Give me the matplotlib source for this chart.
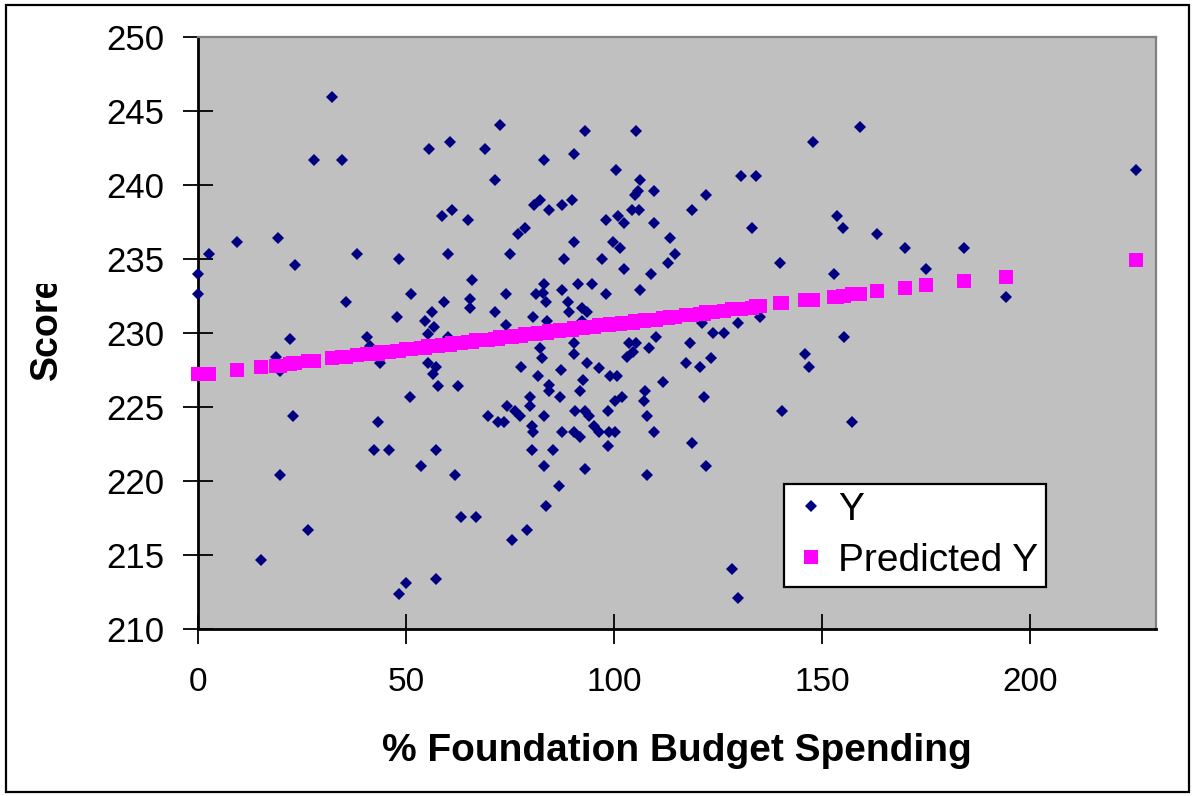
import matplotlib
matplotlib.use("Agg")
import matplotlib.pyplot as plt
from matplotlib.patches import Rectangle
from matplotlib.transforms import Bbox, TransformedBbox

# ---- data ----
spending = [32.3, 27.8, 34.6, 2.7, 9.3, 19.2, 23.3, 38.2, 48.4, 0.0, 0.0, 35.5, 47.8, 51.2,
            72.6, 93.1, 55.5, 60.6, 69.0, 83.2, 90.4, 100.5, 71.4, 80.8, 82.3, 84.4, 87.5, 89.9,
            58.6, 61.1, 64.9, 77.0, 78.5, 98.0, 101.0, 60.1, 75.0, 90.4, 99.8, 101.5, 88.0, 97.1,
            102.3, 65.9, 59.1, 65.3, 65.3, 56.2, 71.4, 74.1, 83.2, 81.3, 83.0, 83.6, 87.5, 91.3,
            94.8, 98.0, 88.9, 89.1, 92.3, 93.5, 54.6, 56.8, 74.1, 80.6, 83.9, 92.3, 102.3,
            105.3, 147.8, 106.3, 105.7, 105.1, 109.6, 104.3, 105.9, 130.6, 134.1, 122.1, 118.7,
            109.6, 133.2, 113.5, 114.7, 113.0, 108.8, 140.0, 106.3, 121.1, 123.8, 126.5, 129.8,
            135.2, 103.7, 105.3, 110.1, 108.4, 103.1, 104.5, 118.3, 117.4, 120.7, 123.4, 146.0,
            146.8, 100.7, 111.9, 107.5, 107.3, 101.9, 100.3, 121.7, 140.4, 107.9, 100.3, 109.6,
            118.7, 122.1, 107.9, 128.4, 129.8, 60.0, 55.4, 55.4, 57.2, 56.6, 57.6, 62.6, 51.0,
            82.3, 82.7, 90.3, 90.3, 77.6, 81.7, 87.3, 93.5, 96.3, 99.1, 84.4, 84.4, 92.5, 79.8,
            87.1, 91.9, 74.2, 76.2, 77.4, 79.8, 69.6, 72.0, 73.6, 83.2, 90.7, 93.1, 93.9, 98.5,
            80.2, 80.6, 87.5, 90.3, 91.9, 95.1, 96.3, 98.7, 98.5, 80.2, 85.3, 57.2, 53.6, 61.8,
            83.1, 93.1, 86.7, 83.6, 63.2, 66.9, 79.0, 75.4, 49.9, 57.2, 48.2, 22.1, 40.6, 41.4,
            18.8, 19.6, 43.8, 22.9, 43.2, 42.2, 45.9, 19.7, 26.4, 15.2, 159.2, 225.6, 153.6,
            155.0, 163.2, 169.9, 184.1, 175.0, 153.0, 194.3, 155.4, 157.2]

score = [245.9, 241.7, 241.7, 235.3, 236.1, 236.4, 234.6, 235.3, 235.0, 234.0, 232.6, 232.1, 231.1, 232.6,
         244.0, 243.6, 242.4, 242.9, 242.4, 241.7, 242.1, 241.0, 240.3, 238.6, 239.0, 238.3, 238.6, 239.0,
         237.9, 238.3, 237.6, 236.7, 237.1, 237.6, 237.9, 235.3, 235.3, 236.1, 236.1, 235.7, 235.0, 235.0,
         234.3, 233.6, 232.1, 232.3, 231.7, 231.4, 231.4, 232.6, 233.3, 232.6, 232.7, 232.1, 232.9, 233.3,
         233.3, 232.6, 232.1, 231.4, 231.7, 231.4, 230.8, 230.4, 230.5, 231.1, 230.8, 230.8, 237.4,
         243.6, 242.9, 240.3, 239.6, 239.3, 239.6, 238.3, 238.3, 240.6, 240.6, 239.3, 238.3,
         237.4, 237.1, 236.4, 235.3, 234.7, 234.0, 234.7, 232.9, 230.7, 230.0, 230.0, 230.7,
         231.1, 229.3, 229.3, 229.7, 229.0, 228.4, 228.7, 229.3, 228.0, 227.7, 228.3, 228.6,
         227.7, 227.1, 226.7, 226.1, 225.4, 225.7, 225.4, 225.7, 224.7, 224.4, 223.3, 223.3,
         222.6, 221.0, 220.4, 214.1, 212.1, 229.7, 229.9, 228.0, 227.7, 227.2, 226.4, 226.4, 225.7,
         229.0, 228.3, 229.3, 228.6, 227.7, 227.1, 227.5, 228.0, 227.6, 227.1, 226.5, 226.1, 226.8, 225.7,
         225.7, 226.1, 225.1, 224.7, 224.4, 225.1, 224.4, 224.0, 224.0, 224.4, 224.7, 224.7, 224.4, 224.7,
         223.7, 223.3, 223.3, 223.3, 223.0, 223.7, 223.3, 223.3, 222.4, 222.1, 222.1, 222.1, 221.0, 220.4,
         221.0, 220.8, 219.7, 218.3, 217.6, 217.6, 216.7, 216.0, 213.1, 213.4, 212.4, 229.6, 229.7, 229.1,
         228.4, 227.4, 228.0, 224.4, 224.0, 222.1, 222.1, 220.4, 216.7, 214.7, 243.9, 241.0, 237.9,
         237.1, 236.7, 235.7, 235.7, 234.3, 234.0, 232.4, 229.7, 224.0]

predicted = [228.3, 228.1, 228.4, 227.2, 227.5, 227.8, 228.0, 228.5, 228.8, 227.2, 227.2, 228.4, 228.8, 228.9,
             229.7, 230.4, 229.1, 229.2, 229.5, 230.0, 230.3, 230.6, 229.6, 229.9, 230.0, 230.1, 230.2, 230.2,
             229.2, 229.3, 229.4, 229.8, 229.9, 230.5, 230.6, 229.2, 229.7, 230.3, 230.6, 230.6, 230.2, 230.5,
             230.7, 229.4, 229.2, 229.4, 229.4, 229.1, 229.6, 229.7, 230.0, 229.9, 230.0, 230.0, 230.2, 230.3,
             230.4, 230.5, 230.2, 230.2, 230.3, 230.4, 229.0, 229.1, 229.7, 229.9, 230.0, 230.3, 230.7,
             230.8, 232.2, 230.8, 230.8, 230.8, 230.9, 230.7, 230.8, 231.6, 231.8, 231.4, 231.2,
             230.9, 231.7, 231.1, 231.1, 231.0, 230.9, 232.0, 230.8, 231.3, 231.4, 231.5, 231.6,
             231.8, 230.7, 230.8, 230.9, 230.9, 230.7, 230.7, 231.2, 231.2, 231.3, 231.4, 232.2,
             232.2, 230.6, 231.0, 230.9, 230.8, 230.7, 230.6, 231.3, 232.0, 230.9, 230.6, 230.9,
             231.2, 231.4, 230.9, 231.6, 231.6, 229.2, 229.1, 229.1, 229.1, 229.1, 229.1, 229.3, 228.9,
             230.0, 230.0, 230.3, 230.3, 229.8, 230.0, 230.2, 230.4, 230.5, 230.6, 230.1, 230.1, 230.3, 229.9,
             230.2, 230.3, 229.7, 229.8, 229.8, 229.9, 229.5, 229.6, 229.7, 230.0, 230.3, 230.4, 230.4, 230.5,
             229.9, 229.9, 230.2, 230.3, 230.3, 230.4, 230.5, 230.5, 230.5, 229.9, 230.1, 229.1, 229.0, 229.3,
             230.0, 230.4, 230.1, 230.0, 229.3, 229.5, 229.9, 229.7, 228.9, 229.1, 228.8, 227.9, 228.6, 228.6,
             227.8, 227.8, 228.7, 228.0, 228.6, 228.6, 228.7, 227.8, 228.1, 227.7, 232.6, 234.9, 232.4,
             232.5, 232.8, 233.0, 233.5, 233.2, 232.4, 233.8, 232.5, 232.6]

x_ticks = [0, 50, 100, 150, 200]
y_ticks = [210, 215, 220, 225, 230, 235, 240, 245, 250]
series_names = ["Y", "Predicted Y"]
x_title = "% Foundation Budget Spending"
y_title = "Score"

# ---- figure ----
W, H = 1195, 796
fig = plt.figure(figsize=(W / 100, H / 100), dpi=100)
fig.patch.set_facecolor("white")

def fx(px):
    return px / W

def fy(py):
    return 1 - py / H

ax = fig.add_axes([fx(198), fy(629.3), fx(1156) - fx(198), fy(36.5) - fy(629.3)])
ax.set_facecolor("#C0C0C0")

ax.plot(spending, score, linestyle="none", marker="D", ms=6.0, color="#000080",
        markeredgewidth=0, label=series_names[0], zorder=3, clip_on=False)
ax.plot(spending, predicted, linestyle="none", marker="s", ms=9.6, color="#FF00FF",
        markeredgewidth=0, label=series_names[1], zorder=4, clip_on=False)

ax.set_xlim(0, 230.3)
ax.set_ylim(210, 250)
ax.set_xticks(x_ticks)
ax.set_yticks(y_ticks)
ax.set_xticklabels([str(v) for v in x_ticks])
ax.set_yticklabels([str(v) for v in y_ticks])

for side in ("left", "bottom"):
    ax.spines[side].set_color("black")
    ax.spines[side].set_linewidth(2.0)
for side in ("top", "right"):
    ax.spines[side].set_color("#808080")
    ax.spines[side].set_linewidth(1.6)

ax.tick_params(axis="both", direction="inout", length=21, width=1.3, color="black")
ax.tick_params(axis="y", pad=14)
ax.tick_params(axis="x", pad=17)
for lab in ax.get_yticklabels():
    lab.set_fontfamily("Liberation Sans")
    lab.set_fontsize(25)
for lab in ax.get_xticklabels():
    lab.set_fontfamily("Liberation Sans")
    lab.set_fontsize(24)

ax.set_xlabel(x_title, fontfamily="Liberation Sans", fontsize=28, fontweight="bold", labelpad=25)

# y title, clipped at the top as in the reference
yt = fig.text(fx(47), fy(380), y_title, rotation=90, ha="center", va="bottom",
              fontfamily="Liberation Sans", fontsize=27, fontweight="bold")
clip = TransformedBbox(Bbox.from_extents(0, fy(796), fx(120), fy(284)), fig.transFigure)
yt.set_clip_box(clip)
yt.set_clip_on(True)

leg = ax.legend(loc="upper left", bbox_to_anchor=(fx(784), fy(484)), bbox_transform=fig.transFigure,
                borderaxespad=0, frameon=True, fancybox=False, framealpha=1,
                prop=dict(family="Liberation Sans", size=28), handlelength=1.0,
                handletextpad=0.2, borderpad=0.2, labelspacing=0.39)
leg.get_frame().set_edgecolor("black")
leg.get_frame().set_linewidth(1.6)
leg.get_frame().set_facecolor("white")

# outer chart border
fig.patches.append(Rectangle((fx(6), fy(792)), fx(1189) - fx(6), fy(5) - fy(792),
                             transform=fig.transFigure, fill=False, edgecolor="black",
                             linewidth=1.6, zorder=10))

fig.savefig("out.png", dpi=100, facecolor="white")
